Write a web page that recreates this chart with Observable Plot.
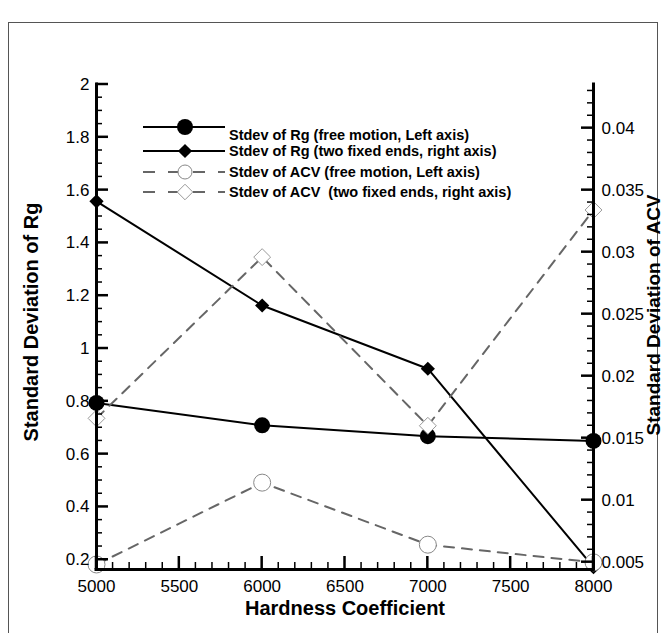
<!DOCTYPE html>
<html><head><meta charset="utf-8">
<script src="https://cdn.jsdelivr.net/npm/d3@7"></script>
<script src="https://cdn.jsdelivr.net/npm/@observablehq/plot@0.6"></script>
<style>
body{margin:0;background:#fff;}
#chart{position:relative;width:666px;height:633px;}
</style></head><body><div id="chart"></div>
<script>
// Data
const hardness = [5000, 6000, 7000, 8000];
const rgFree   = [0.794, 0.709, 0.668, 0.650];     // left axis
const rgFixed  = [0.0341, 0.0257, 0.0206, 0.0046]; // right axis
const acvFree  = [0.182, 0.492, 0.257, 0.190];     // left axis
const acvFixed = [0.0166, 0.0296, 0.0160, 0.0334]; // right axis

const seriesNames = [
  "Stdev of Rg (free motion, Left axis)",
  "Stdev of Rg (two fixed ends, right axis)",
  "Stdev of ACV (free motion, Left axis)",
  "Stdev of ACV  (two fixed ends, right axis)"
];
const xTitle = "Hardness Coefficient";
const yLeftTitle = "Standard Deviation of Rg";
const yRightTitle = "Standard Deviation of ACV";

const xDomain = [5000, 8000];
const leftDomain = [0.163, 2];
const rightDomain = [0.00441, 0.04352];

const xMajor = [5000, 5500, 6000, 6500, 7000, 7500, 8000];
const xMinor = d3.range(50, 81).filter(i => i % 5).map(i => i * 100);
const leftMajor = [0.2, 0.4, 0.6, 0.8, 1, 1.2, 1.4, 1.6, 1.8, 2];
const leftMinor = d3.range(4, 41).filter(i => i % 4).map(i => i * 0.05);
const rightMajor = [0.005, 0.01, 0.015, 0.02, 0.025, 0.03, 0.035, 0.04];
const rightMinor = d3.range(5, 44).filter(i => i % 5).map(i => i / 1000);

const toLeft = v => leftDomain[0] + (v - rightDomain[0]) * (leftDomain[1] - leftDomain[0]) / (rightDomain[1] - rightDomain[0]);
const fromLeft = v => rightDomain[0] + (v - leftDomain[0]) * (rightDomain[1] - rightDomain[0]) / (leftDomain[1] - leftDomain[0]);

const rows = hardness.map((h, i) => ({
  h,
  rgFree: rgFree[i],
  rgFixed: toLeft(rgFixed[i]),
  acvFree: acvFree[i],
  acvFixed: toLeft(acvFixed[i])
}));

const solid = {stroke: "#000", strokeWidth: 2};
const dashed = {stroke: "#666", strokeWidth: 2, strokeDasharray: "10,8"};

const chart = Plot.plot({
  width: 666,
  height: 633,
  marginLeft: 96,
  marginRight: 73,
  marginTop: 84,
  marginBottom: 64,
  style: {fontFamily: "'Liberation Sans', Arial, sans-serif", fontSize: "17px", color: "#000", background: "#fff", overflow: "visible"},
  x: {domain: xDomain},
  y: {domain: leftDomain},
  marks: [
    // series
    Plot.line(rows, {x: "h", y: "rgFree", ...solid}),
    Plot.dot(rows, {x: "h", y: "rgFree", r: 8, fill: "#000", stroke: "none"}),
    Plot.line(rows, {x: "h", y: "rgFixed", ...solid}),
    Plot.dot(rows, {x: "h", y: "rgFixed", symbol: "diamond2", r: 6.4, fill: "#000", stroke: "none"}),
    Plot.line(rows, {x: "h", y: "acvFree", ...dashed}),
    Plot.dot(rows, {x: "h", y: "acvFree", r: 8.5, fill: "#fff", stroke: "#888", strokeWidth: 1}),
    Plot.line(rows, {x: "h", y: "acvFixed", ...dashed}),
    Plot.dot(rows, {x: "h", y: "acvFixed", symbol: "diamond2", r: 7.6, fill: "#fff", stroke: "#999", strokeWidth: 1}),
    // tick labels
    Plot.axisX(xMajor, {tickSize: 0, tickPadding: 10, tickFormat: "d", label: null}),
    Plot.axisY(leftMajor, {anchor: "left", tickSize: 0, tickPadding: 7, tickFormat: d => String(+d.toFixed(2)), label: null}),
    Plot.axisY(rightMajor.map(toLeft), {anchor: "right", tickSize: 0, tickPadding: 8, tickFormat: d => String(+fromLeft(d).toFixed(4)), label: null}),
    // axis lines
    Plot.ruleX(xDomain, {stroke: "#000", strokeWidth: 3, strokeLinecap: "square"}),
    Plot.ruleY([leftDomain[0]], {stroke: "#000", strokeWidth: 3, strokeLinecap: "square"}),
    // titles
    Plot.text([xTitle], {frameAnchor: "bottom", textAnchor: "middle", dy: 45, fontSize: 20, fontWeight: "bold"}),
    Plot.text([yLeftTitle], {frameAnchor: "left", textAnchor: "middle", dx: -65, dy: -5, rotate: -90, fontSize: 20, fontWeight: "bold"}),
    Plot.text([yRightTitle], {frameAnchor: "right", textAnchor: "middle", dx: 60, dy: -12, rotate: -90, fontSize: 19, fontWeight: "bold"})
  ]
});

document.getElementById("chart").appendChild(chart);

const svg = d3.select(chart);
const sx = chart.scale("x"), sy = chart.scale("y");

// inward ticks, positioned through Plot's own scales
const tg = svg.append("g").attr("stroke", "#000").attr("fill", "none");
const tick = (x, y, dx, dy, w) => tg.append("line")
  .attr("x1", x).attr("y1", y).attr("x2", x + dx).attr("y2", y + dy).attr("stroke-width", w);
const yBase = sy.apply(leftDomain[0]);
const xL = sx.apply(xDomain[0]), xR = sx.apply(xDomain[1]);
xMajor.forEach(v => tick(sx.apply(v), yBase, 0, -13, 2.5));
xMinor.forEach(v => tick(sx.apply(v), yBase, 0, -7, 1.5));
leftMajor.forEach(v => tick(xL, sy.apply(v), 12, 0, 2.5));
leftMinor.forEach(v => tick(xL, sy.apply(v), 6, 0, 1.5));
rightMajor.forEach(v => tick(xR, sy.apply(toLeft(v)), -12, 0, 2.5));
rightMinor.forEach(v => tick(xR, sy.apply(toLeft(v)), -6, 0, 1.5));

// outer frame
svg.insert("rect", ":first-child")
  .attr("x", 8.5).attr("y", 22.5).attr("width", 649).attr("height", 640)
  .attr("fill", "none").attr("stroke", "#555").attr("stroke-width", 1);

// legend
const legendRows = [127, 151, 172, 192];
const lg = svg.append("g").attr("font-family", "'Liberation Sans', Arial, sans-serif").attr("text-anchor", "start");
seriesNames.forEach((name, i) => {
  const y = legendRows[i];
  const isSolid = i < 2;
  lg.append("line").attr("x1", 143).attr("x2", 225).attr("y1", y).attr("y2", y)
    .attr("stroke", isSolid ? "#000" : "#666").attr("stroke-width", 2)
    .attr("stroke-dasharray", isSolid ? null : "12,13");
  if (i === 0) lg.append("circle").attr("cx", 185).attr("cy", y).attr("r", 8).attr("fill", "#000");
  if (i === 1) lg.append("path").attr("d", d3.symbol(d3.symbolDiamond2, Math.PI * 6.4 * 6.4)()).attr("transform", `translate(185,${y})`).attr("fill", "#000");
  if (i === 2) lg.append("circle").attr("cx", 185).attr("cy", y).attr("r", 7).attr("fill", "#fff").attr("stroke", "#888");
  if (i === 3) lg.append("path").attr("d", d3.symbol(d3.symbolDiamond2, Math.PI * 7 * 7)()).attr("transform", `translate(185,${y})`).attr("fill", "#fff").attr("stroke", "#999");
  lg.append("text").attr("x", 229).attr("y", y + (i === 0 ? 8 : 0)).attr("dy", "0.35em")
    .attr("text-anchor", "start")
    .attr("font-size", 14.5).attr("font-weight", "bold").attr("fill", "#000").text(name);
});
</script>
</body></html>
